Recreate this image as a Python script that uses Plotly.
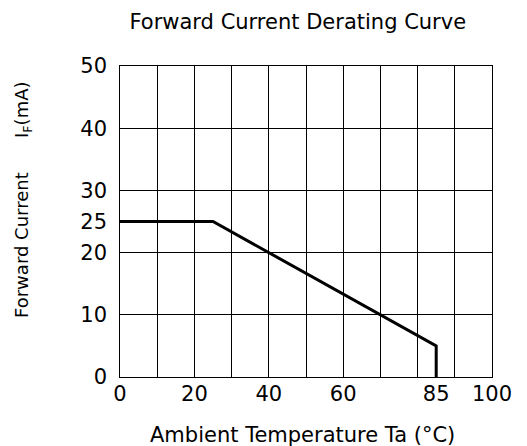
import plotly.graph_objects as go

# Data
temp_c = [0, 25, 85, 85]
current_ma = [25, 25, 5, 0]
x_tick_vals = [0, 20, 40, 60, 85, 100]
y_tick_vals = [0, 10, 20, 25, 30, 40, 50]

FONT = "DejaVu Sans"

fig = go.Figure()
# invisible trace to create the grid subplot
fig.add_trace(go.Scatter(x=temp_c, y=current_ma, mode="lines",
                         line=dict(color="rgba(0,0,0,0)", width=0),
                         hoverinfo="skip", showlegend=False,
                         xaxis="x", yaxis="y"))
fig.add_trace(go.Scatter(x=temp_c, y=current_ma, mode="lines",
                         line=dict(color="black", width=3),
                         showlegend=False, xaxis="x2", yaxis="y2"))

fig.update_layout(
    width=527, height=446,
    margin=dict(l=120, r=35, t=66, b=69),
    paper_bgcolor="white", plot_bgcolor="white",
    font=dict(family=FONT, color="black"),
    title=dict(text="Forward Current Derating Curve",
               font=dict(family=FONT, size=21, color="black"),
               x=0.478, xref="paper", xanchor="center",
               y=1 - 22 / 446, yref="container", yanchor="middle"),
    xaxis=dict(range=[0, 100], dtick=10, tick0=0, showgrid=True,
               gridcolor="black", gridwidth=1, showticklabels=False,
               zeroline=False, showline=True, mirror=True,
               linecolor="black", linewidth=1, ticks=""),
    yaxis=dict(range=[0, 50], dtick=10, tick0=0, showgrid=True,
               gridcolor="black", gridwidth=1, showticklabels=False,
               zeroline=False, showline=True, mirror=True,
               linecolor="black", linewidth=1, ticks=""),
    xaxis2=dict(range=[0, 100], overlaying="x", anchor="y2", side="bottom",
                tickmode="array", tickvals=x_tick_vals,
                ticktext=[str(v) for v in x_tick_vals],
                showgrid=False, zeroline=False, ticks="",
                ticklabelstandoff=2,
                tickfont=dict(family=FONT, size=21, color="black")),
    yaxis2=dict(range=[0, 50], overlaying="y", anchor="x2", side="left",
                tickmode="array", tickvals=y_tick_vals,
                ticktext=[str(v) for v in y_tick_vals],
                showgrid=False, zeroline=False, ticks="",
                ticklabelstandoff=12,
                tickfont=dict(family=FONT, size=21, color="black")),
    annotations=[
        dict(text="Ambient Temperature Ta (°C)", xref="paper", yref="paper",
             x=0.49, y=(377 - 435) / 311, xanchor="center", yanchor="middle",
             showarrow=False, font=dict(family=FONT, size=21, color="black")),
        dict(text="Forward Current\u00a0\u00a0\u00a0\u00a0\u00a0\u00a0I<sub>F</sub>(mA)",
             xref="paper", yref="paper", x=0, xshift=-97, xanchor="center",
             y=(377 - 200) / 311, yanchor="middle", textangle=-90,
             showarrow=False, font=dict(family=FONT, size=18, color="black")),
    ],
)

fig.write_html("out.html", config={"displayModeBar": False},
               post_script="document.body.style.margin='0';document.body.style.overflow='hidden';")
